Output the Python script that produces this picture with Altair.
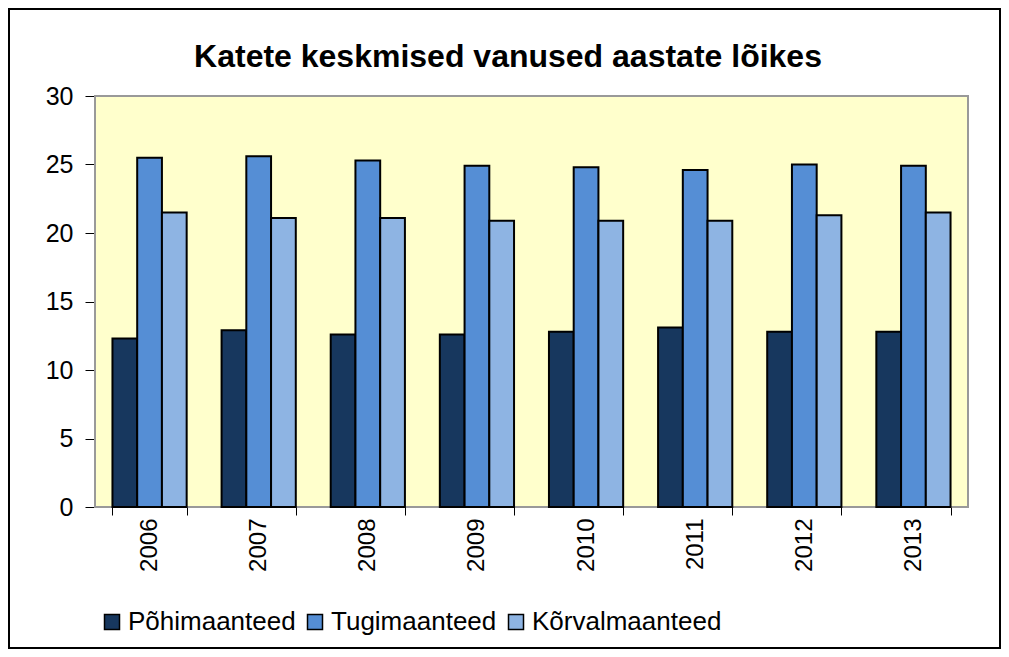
import altair as alt
import pandas as pd

years = ["2006", "2007", "2008", "2009", "2010", "2011", "2012", "2013"]
series = ["Põhimaanteed", "Tugimaanteed", "Kõrvalmaanteed"]
pohi = [12.3, 12.9, 12.6, 12.6, 12.8, 13.1, 12.8, 12.8]
tugi = [25.5, 25.6, 25.3, 24.9, 24.8, 24.6, 25.0, 24.9]
korval = [21.5, 21.1, 21.1, 20.9, 20.9, 20.9, 21.3, 21.5]
colors = ["#17375E", "#558ED5", "#8EB4E3"]
title_text = "Katete keskmised vanused aastate lõikes"

rows = []
for name, vals in zip(series, [pohi, tugi, korval]):
    for y, v in zip(years, vals):
        rows.append({"year": y, "series": name, "value": v})
df = pd.DataFrame(rows)

W, H = 873, 411
PL, PT, PR, PB = 87, 88, 33, 142

font = "Liberation Sans"

plot_bg = alt.Chart(alt.Data(values=[{}])).mark_rect(
    fill="#FFFFCC", stroke="#999999", strokeWidth=2
).encode(x=alt.value(0), x2=alt.value(W), y=alt.value(0), y2=alt.value(H))

bars = alt.Chart(df).mark_bar(stroke="black", strokeWidth=2).encode(
    x=alt.X("year:N", sort=years, title=None,
            scale=alt.Scale(paddingInner=0.32, paddingOuter=0.16),
            axis=alt.Axis(labelAngle=-90, labelFontSize=24, labelFont=font,
                          labelColor="black", tickBand="extent", tickColor="black",
                          tickSize=8, domainColor="black", labelPadding=3)),
    xOffset=alt.XOffset("series:N", sort=series,
                        scale=alt.Scale(paddingInner=0, paddingOuter=0)),
    y=alt.Y("value:Q", title=None,
            scale=alt.Scale(domain=[0, 30], nice=False),
            axis=alt.Axis(values=[0, 5, 10, 15, 20, 25, 30], labelFontSize=25,
                          labelFont=font, labelColor="black", grid=True,
                          gridColor="black", gridWidth=1, gridOpacity=1,
                          tickColor="black", tickSize=10, domainColor="black",
                          labelPadding=12)),
    color=alt.Color("series:N", sort=series,
                    scale=alt.Scale(domain=series, range=colors),
                    legend=alt.Legend(title=None, orient="none", direction="horizontal",
                                      legendX=4, legendY=513,
                                      symbolType="square", symbolSize=225,
                                      symbolStrokeColor="black", symbolStrokeWidth=1.5,
                                      labelFontSize=26, labelFont=font, labelLimit=0,
                                      labelColor="black", columnPadding=6,
                                      labelOffset=3)),
)

title = alt.Chart(alt.Data(values=[{}])).mark_text(
    text=title_text, fontSize=32, font=font, fontWeight="bold", color="black",
    align="center", baseline="alphabetic"
).encode(x=alt.value(413), y=alt.value(-29))

frame = alt.Chart(alt.Data(values=[{}])).mark_rect(
    fill=None, stroke="black", strokeWidth=2
).encode(
    x=alt.value(-PL + 1), x2=alt.value(W + PR - 1),
    y=alt.value(-PT + 1), y2=alt.value(H + PB - 1),
)

chart = alt.layer(plot_bg, bars, title, frame).properties(
    width=W, height=H,
    autosize=alt.AutoSizeParams(type="none"),
    padding={"left": PL, "top": PT, "right": PR, "bottom": PB},
).configure_view(
    stroke=None
).configure(background="white")

chart.save("out.html", embed_options={"renderer": "svg", "actions": False})
